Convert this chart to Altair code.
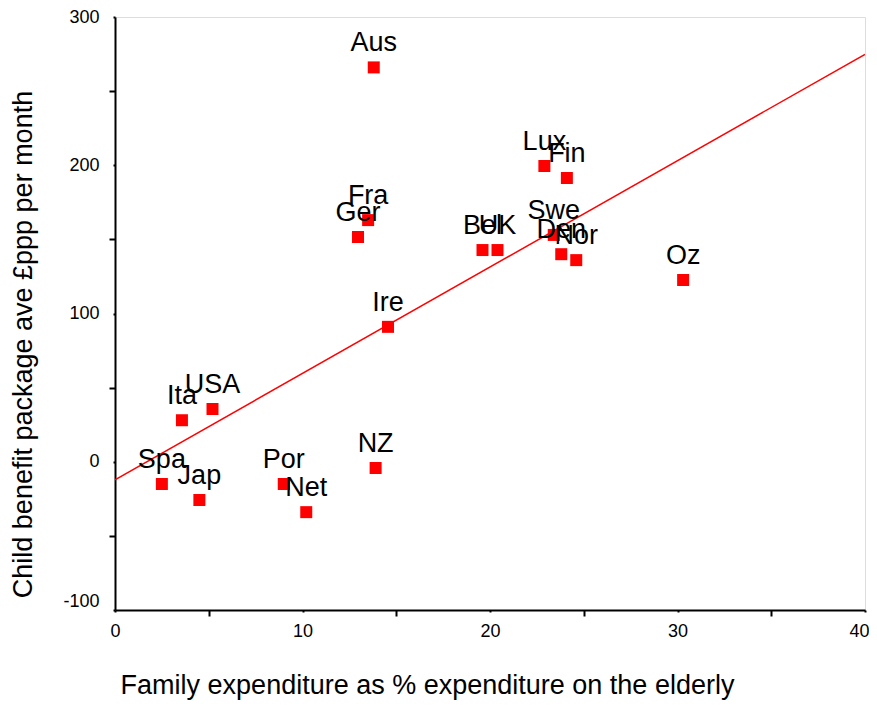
import altair as alt
import pandas as pd

countries = ["Aus", "Lux", "Fin", "Fra", "Ger", "Bel", "UK", "Swe", "Den", "Nor",
             "Oz", "Ire", "Ita", "USA", "Spa", "Jap", "Por", "Net", "NZ"]
family_exp = [13.8, 22.9, 24.1, 13.5, 12.96, 19.6, 20.4, 23.4, 23.8, 24.6,
              30.3, 14.56, 3.57, 5.2, 2.5, 4.5, 9.0, 10.2, 13.9]
child_benefit = [266, 199.5, 191.4, 163, 151.6, 142.8, 142.8, 153, 140, 136,
                 122.6, 91, 28, 35.6, -15, -25.8, -15, -34, -4.2]

x_ticks = [0, 5, 10, 15, 20, 25, 30, 35, 40]
y_ticks = [-100, -50, 0, 50, 100, 150, 200, 250, 300]

df = pd.DataFrame({"country": countries, "x": family_exp, "y": child_benefit})

FONT = "Liberation Sans"

xscale = alt.Scale(domain=[0, 40], nice=False, zero=False)
yscale = alt.Scale(domain=[-100, 300], nice=False, zero=False)

xaxis = alt.Axis(
    title="Family expenditure as % expenditure on the elderly",
    values=x_ticks,
    labelExpr="datum.value % 10 === 0 ? '' + datum.value : ''",
    grid=False, domainColor="black", domainWidth=2,
    tickColor="black", tickWidth=2,
    tickSize={"condition": {"test": "datum.value % 10 === 0", "value": 2}, "value": 6},
    labelOffset={"condition": {"test": "datum.value === 40", "value": -6}, "value": 0},
    labelFont=FONT, labelFontSize=18, labelColor="black", labelPadding=10,
    labelFlush=False,
    titleFont=FONT, titleFontSize=27, titleFontWeight="normal", titleColor="black",
    titleX=312, titleY=83, titleAlign="center", titleBaseline="alphabetic",
)
yaxis = alt.Axis(
    title="Child benefit package ave £ppp per month",
    values=y_ticks,
    labelExpr="datum.value % 100 === 0 ? '' + datum.value : ''",
    grid=False, domainColor="black", domainWidth=2,
    tickColor="black", tickWidth=2,
    tickSize={"condition": {"test": "datum.value % 100 === 0", "value": 2}, "value": 6},
    labelOffset={"condition": {"test": "datum.value === -100", "value": -9}, "value": 0},
    labelFont=FONT, labelFontSize=18, labelColor="black", labelPadding=14,
    labelFlush=False,
    titleFont=FONT, titleFontSize=27, titleFontWeight="normal", titleColor="black",
    titleX=-92, titleY=327, titleAlign="center", titleBaseline="middle", titleAngle=-90,
)

base = alt.Chart(df)

points = base.mark_square(size=144, color="#FF0000", opacity=1).encode(
    x=alt.X("x:Q", scale=xscale, axis=xaxis),
    y=alt.Y("y:Q", scale=yscale, axis=yaxis),
)

labels = base.mark_text(dy=-16, baseline="alphabetic", fontSize=27, font=FONT,
                        color="black").encode(
    x=alt.X("x:Q", scale=xscale),
    y=alt.Y("y:Q", scale=yscale),
    text="country:N",
)

fit = base.transform_regression("x", "y", extent=[0, 40]).mark_line(
    color="#FF0000", strokeWidth=1.5, clip=True
).encode(
    x=alt.X("x:Q", scale=xscale),
    y=alt.Y("y:Q", scale=yscale),
)

chart = alt.layer(fit, points, labels).properties(
    width=750, height=593,
    autosize=alt.AutoSizeParams(type="none"),
    padding={"left": 107, "top": 9, "right": 4, "bottom": 90},
).configure_view(stroke="black", strokeWidth=2).configure(background="white")

chart.save("out.html", embed_options={"renderer": "svg", "actions": False})
